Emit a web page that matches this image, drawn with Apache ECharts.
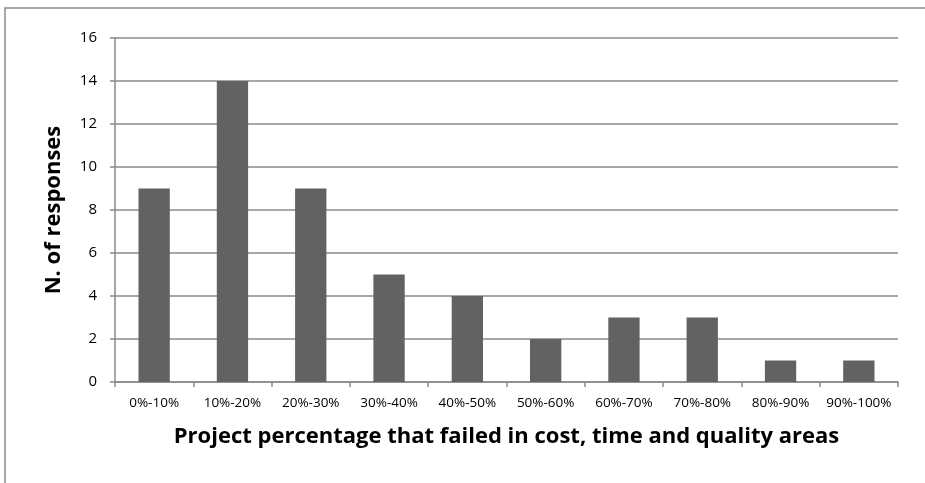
<!DOCTYPE html>
<html>
<head>
<meta charset="utf-8">
<script src="https://cdn.jsdelivr.net/npm/echarts@6/dist/echarts.min.js"></script>
<style>
  html, body { margin: 0; padding: 0; background: #fff; }
  #chart { width: 925px; height: 483px; }
</style>
</head>
<body>
<div id="chart"></div>
<script>
// Share of failed projects (cost, time, quality) vs. number of responses
const categories = ['0%-10%', '10%-20%', '20%-30%', '30%-40%', '40%-50%',
                    '50%-60%', '60%-70%', '70%-80%', '80%-90%', '90%-100%'];
const responses = [9, 14, 9, 5, 4, 2, 3, 3, 1, 1];
const yTicks = { min: 0, max: 16, interval: 2 };

const FONT = '"Open Sans", "Liberation Sans", sans-serif';
const chart = echarts.init(document.getElementById('chart'), null, { renderer: 'canvas' });

chart.setOption({
  animation: false,
  backgroundColor: '#ffffff',
  graphic: [{
    type: 'rect',
    shape: { x: 5, y: 8, width: 940, height: 500 },
    style: { fill: 'none', stroke: '#8a8a8a', lineWidth: 1.5 },
    silent: true
  }],
  grid: { left: 115, top: 38, right: 27, bottom: 101, containLabel: false },
  xAxis: {
    type: 'category',
    data: categories,
    name: 'Project percentage that failed in cost, time and quality areas',
    nameLocation: 'middle',
    nameGap: 44,
    nameTextStyle: { fontFamily: FONT, fontWeight: 'bold', fontSize: 22, color: '#000' },
    axisLine: { lineStyle: { color: '#8a8a8a', width: 1.5 } },
    axisTick: { show: true, alignWithLabel: false, length: 5, lineStyle: { color: '#8a8a8a', width: 1.5 } },
    axisLabel: { fontFamily: FONT, fontSize: 13.5, color: '#000', margin: 14, interval: 0 },
    splitLine: { show: false }
  },
  yAxis: {
    type: 'value',
    min: yTicks.min,
    max: yTicks.max,
    interval: yTicks.interval,
    name: 'N. of responses',
    nameLocation: 'middle',
    nameGap: 50,
    nameRotate: 90,
    nameTextStyle: { fontFamily: FONT, fontWeight: 'bold', fontSize: 22, color: '#000' },
    axisLine: { show: true, lineStyle: { color: '#8a8a8a', width: 1.5 } },
    axisTick: { show: true, length: 5, lineStyle: { color: '#8a8a8a', width: 1.5 } },
    axisLabel: { fontFamily: FONT, fontSize: 15, color: '#000', margin: 18 },
    splitLine: { show: true, lineStyle: { color: '#8a8a8a', width: 1.5 } }
  },
  series: [{
    type: 'bar',
    data: responses,
    barWidth: '40%',
    itemStyle: { color: '#626262' }
  }]
});
</script>
</body>
</html>
